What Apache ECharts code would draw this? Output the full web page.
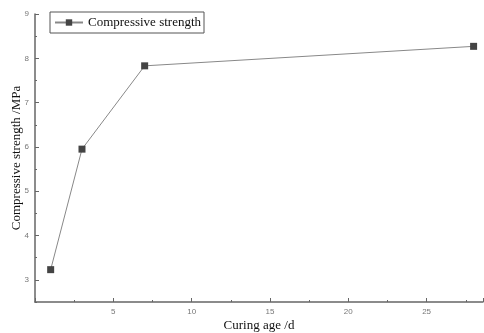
<!DOCTYPE html>
<html>
<head>
<meta charset="utf-8">
<script src="https://cdn.jsdelivr.net/npm/echarts@6/dist/echarts.min.js"></script>
<style>
  html, body { margin: 0; padding: 0; background: #fff; }
  #chart { width: 484px; height: 333px; }
</style>
</head>
<body>
<div id="chart"></div>
<script>
// curing age (days) and strength (MPa)
const ages = [1, 3, 7, 28];
const strength = [3.23, 5.95, 7.83, 8.27];
const yMajor = [3, 4, 5, 6, 7, 8, 9];
const yMinor = [2.5, 3.5, 4.5, 5.5, 6.5, 7.5, 8.5];

const serif = '"Liberation Serif", "DejaVu Serif", serif';
const axisColor = '#666';

const chart = echarts.init(document.getElementById('chart'));
const option = {
  animation: false,
  grid: { left: 35, right: 1, top: 14, bottom: 31, outerBoundsMode: 'none', containLabel: false },
  legend: {
    left: 50,
    top: 12,
    padding: [4, 3, 4, 4],
    borderColor: '#555',
    borderWidth: 1,
    itemWidth: 28,
    itemHeight: 8,
    textStyle: { fontFamily: serif, fontSize: 13, color: '#111' },
    data: ['Compressive strength']
  },
  xAxis: {
    type: 'value',
    min: 0,
    max: 28.6,
    interval: 5,
    name: 'Curing age /d',
    nameLocation: 'middle',
    nameGap: 24,
    nameMoveOverlap: false,
    nameTextStyle: { fontFamily: serif, fontSize: 13, color: '#111', verticalAlign: 'middle' },
    axisLine: { lineStyle: { color: axisColor, width: 1.5 } },
    axisTick: { inside: true, length: 4, lineStyle: { color: axisColor } },
    minorTick: { show: true, splitNumber: 2, length: 2, lineStyle: { color: axisColor } },
    axisLabel: { showMinLabel: false, showMaxLabel: false, fontSize: 8, color: '#777', margin: 6 },
    splitLine: { show: false }
  },
  yAxis: [{
    type: 'value',
    min: 2.5,
    max: 9,
    name: 'Compressive strength /MPa',
    nameLocation: 'middle',
    nameGap: 18,
    nameMoveOverlap: false,
    nameTextStyle: { fontFamily: serif, fontSize: 13, color: '#111', verticalAlign: 'middle' },
    axisLine: { show: true, lineStyle: { color: axisColor, width: 1.5 } },
    axisTick: { show: true, inside: true, length: 4, customValues: yMajor, lineStyle: { color: axisColor } },
    axisLabel: { fontSize: 8, color: '#777', margin: 6, customValues: yMajor },
    splitLine: { show: false }
  }, {
    type: 'value',
    position: 'left',
    min: 2.5,
    max: 9,
    axisLine: { show: false },
    axisTick: { show: true, inside: true, length: 2, customValues: yMinor, lineStyle: { color: axisColor } },
    axisLabel: { show: false },
    splitLine: { show: false }
  }],
  series: [{
    name: 'Compressive strength',
    type: 'line',
    data: ages.map((a, i) => [a, strength[i]]),
    symbol: 'rect',
    symbolSize: 7,
    lineStyle: { color: '#888', width: 1 },
    itemStyle: { color: '#444' }
  }]
};
chart.setOption(option);
</script>
</body>
</html>
